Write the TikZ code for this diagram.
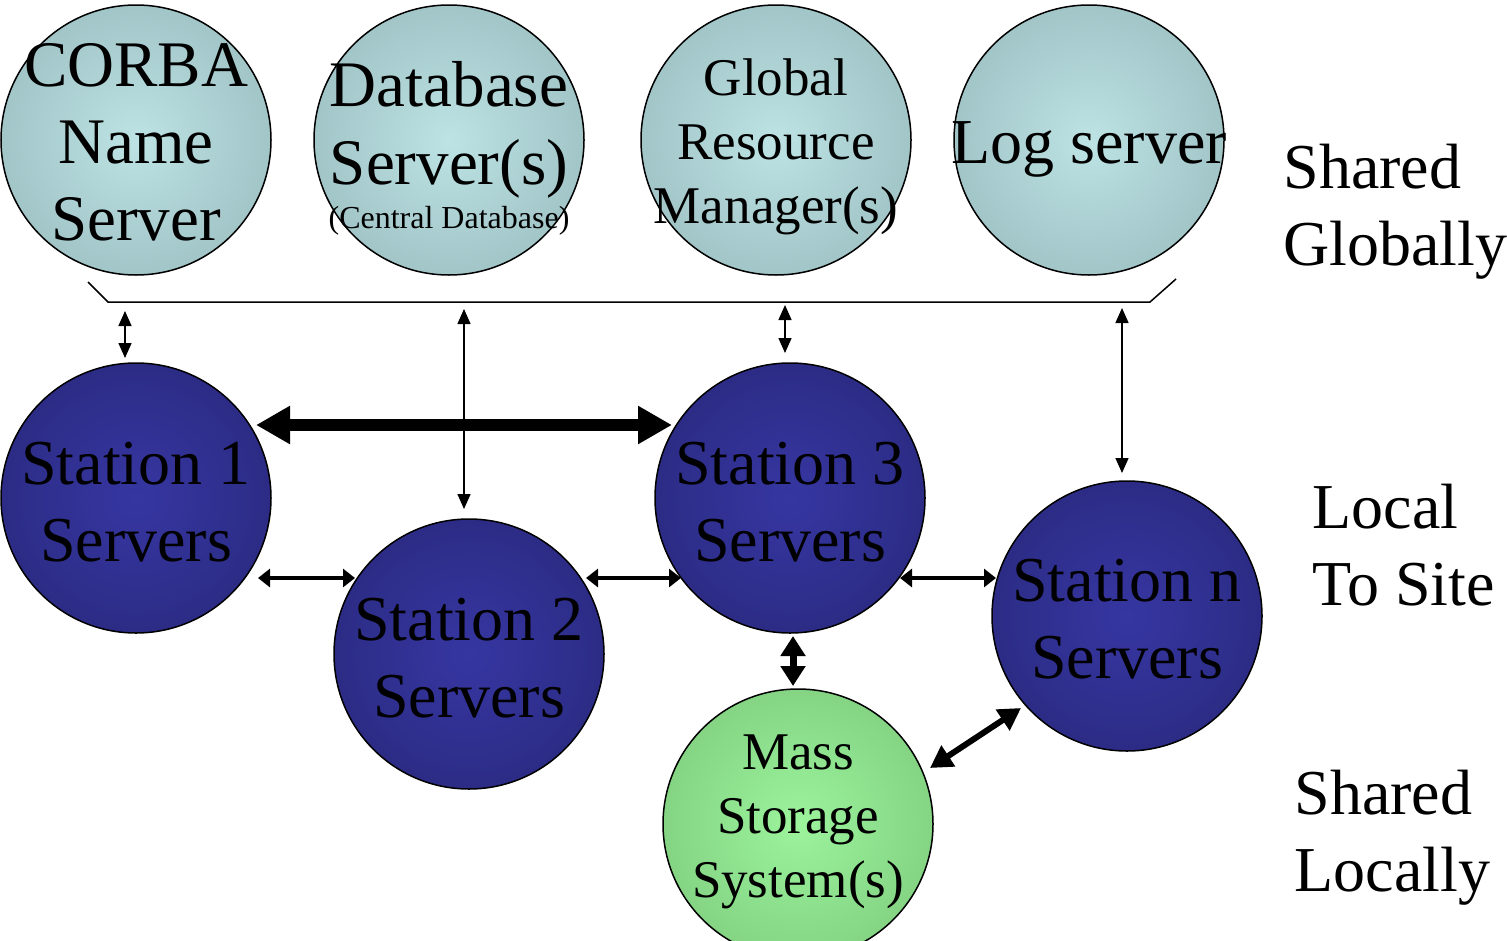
\documentclass[tikz,border=0pt]{standalone}
\usepackage{fontspec}
\setmainfont{Liberation Serif}
\usetikzlibrary{arrows.meta}
\definecolor{globin}{HTML}{BDE3E4}
\definecolor{globout}{HTML}{A2C5C8}
\definecolor{stain}{HTML}{3636A2}
\definecolor{staout}{HTML}{2C2C86}
\definecolor{massin}{HTML}{9CF49C}
\definecolor{massout}{HTML}{84D484}
\tikzset{
  ball/.style={circle, draw, line width=1.5pt, minimum size=270pt, inner sep=0pt},
  globball/.style={ball, inner color=globin, outer color=globout},
  staball/.style={ball, inner color=stain, outer color=staout},
  massball/.style={ball, inner color=massin, outer color=massout},
  big/.style={font=\fontsize{64}{77}\selectfont, align=center},
  mid/.style={font=\fontsize{53}{64}\selectfont, align=center},
  thin/.style={line width=1.5pt, {Triangle[length=15pt,width=13pt]}-{Triangle[length=15pt,width=13pt]}},
  link/.style={line width=4pt, {Triangle[length=12pt,width=18pt]}-{Triangle[length=12pt,width=18pt]}}
}
\begin{document}
\begin{tikzpicture}[x=1pt,y=-1pt]
  \clip (0,0) rectangle (1507,940);
  \useasboundingbox (0,0) rectangle (1507,940);
  \node[globball] (corba) at (136,140) {};
  \node[globball] (db) at (449,140) {};
  \node[globball] (grm) at (776,140) {};
  \node[globball] (log) at (1089,140) {};
  \node[staball] (st1) at (136,498) {};
  \node[staball] (st2) at (469,654) {};
  \node[staball] (st3) at (790,498) {};
  \node[staball] (stn) at (1127,616) {};
  \node[massball] (mss) at (798,824) {};

  \node[big, font=\fontsize{65}{77}\selectfont] at (136,142) {CORBA\\Name\\Server};
  \node[big, font=\fontsize{65}{78}\selectfont] at (449,130) {Database\\Server(s)};
  \node[font=\fontsize{32}{34}\selectfont] at (449,221) {(Central Database)};
  \node[mid] at (776,147) {Global\\Resource\\Manager(s)};
  \node[big] at (1089,149) {Log server};
  \node[big] at (136,502) {Station 1\\Servers};
  \node[big] at (469,658) {Station 2\\Servers};
  \node[big] at (790,502) {Station 3\\Servers};
  \node[big] at (1127,619) {Station n\\Servers};
  \node[mid] at (798,822) {Mass\\Storage\\System(s)};

  \node[big, anchor=west, align=left] (glob) at (1280,212) {Shared\\Globally};
  \node[big, anchor=west, align=left] (site) at (1309,545) {Local\\To Site};
  \node[big, anchor=west, align=left] (locl) at (1291,838) {Shared\\Locally};

  \coordinate (busl) at (108,302);
  \coordinate (busr) at (1150,302);
  \draw[line width=1.5pt] (88,282) -- (busl) -- (busr) -- (1176,279);
  \coordinate (b1) at (125,311);
  \coordinate (b2) at (464,309);
  \coordinate (b3) at (785,305);
  \coordinate (b4) at (1122,308);
  \draw[thin] (b1) -- (125,358);
  \draw[thin] (b2) -- (464,509);
  \draw[thin] (b3) -- (785,353);
  \draw[thin] (b4) -- (1122,473);

  \coordinate (t1) at (256,425);
  \coordinate (t3) at (672,425);
  \draw[line width=12pt, {Triangle[length=34pt,width=36pt]}-{Triangle[length=34pt,width=36pt]}] (t1) -- (t3);
  \draw[link] (258,578) -- (355,578);
  \draw[link] (586,578) -- (681,578);
  \draw[link] (900,578) -- (996,578);
  \coordinate (m3) at (793,636);
  \coordinate (mm) at (793,686);
  \draw[line width=7pt, {Triangle[length=20pt,width=24pt]}-{Triangle[length=20pt,width=24pt]}] (m3) -- (mm);
  \draw[line width=6pt, {Triangle[length=22pt,width=24pt]}-{Triangle[length=22pt,width=24pt]}] (930,768) -- (1021,708);
\end{tikzpicture}
\end{document}
